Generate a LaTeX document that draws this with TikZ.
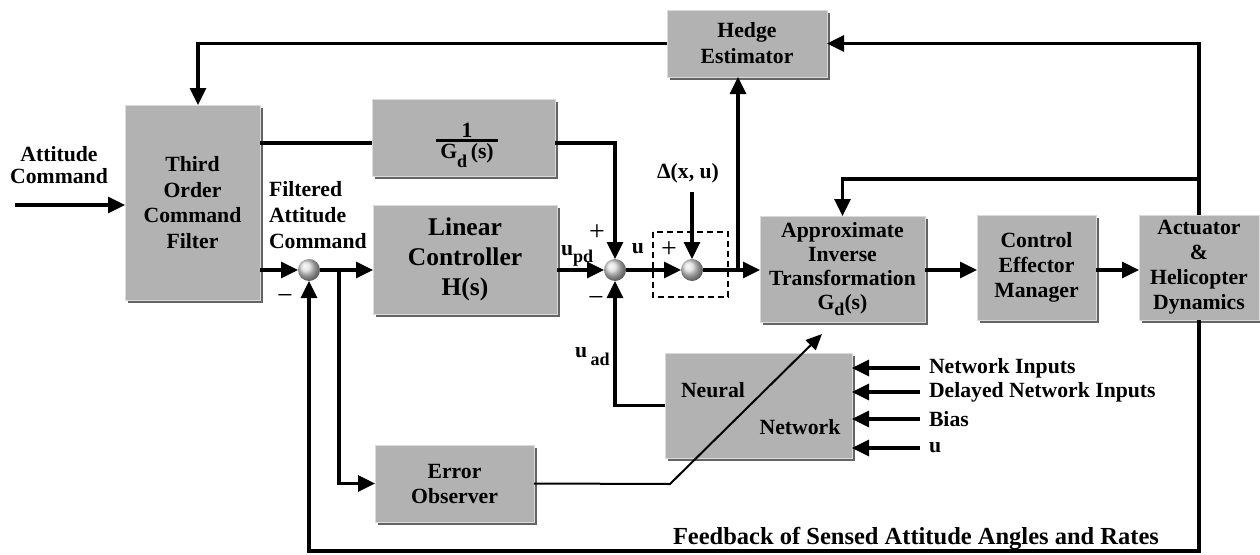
\documentclass[tikz,border=0pt]{standalone}
\usepackage{fontspec}
\setmainfont{Liberation Serif}
\usetikzlibrary{arrows.meta,shadows}
\definecolor{boxfill}{RGB}{178,178,178}
\definecolor{boxedge}{RGB}{218,218,218}
\definecolor{shadowc}{RGB}{100,100,100}
\newcommand{\subd}[2][-7pt]{\raisebox{#1}{\fontsize{18}{18}\selectfont #2}}
\begin{document}
\begin{tikzpicture}[x=1pt,y=-1pt,
  line width=3.3pt,
  every node/.style={font=\bfseries\fontsize{21.7}{25}\selectfont, inner sep=0pt, outer sep=0pt},
  blk/.style={draw=boxedge, line width=1pt, fill=boxfill, align=center,
    drop shadow={shadow xshift=3pt, shadow yshift=-3pt, fill=shadowc, opacity=1}},
  arr/.style={-{Triangle[length=17pt,width=16pt]}},
  thinarr/.style={line width=2pt,-{Triangle[length=16pt,width=14pt]}},
  sumj/.style={circle, minimum size=22pt, shading=ball, ball color=gray!28},
  sgn/.style={font=\mdseries\fontsize{28}{28}\selectfont}
]
\useasboundingbox (0,0) rectangle (1260,554);

% blocks
\node[blk, minimum width=135pt, minimum height=195pt, font=\bfseries\fontsize{21.7}{25.7}\selectfont] (filt) at (192.5,202.5) {Third\\Order\\Command\\Filter};
\node[blk, minimum width=183pt, minimum height=77pt] (gd) at (463.5,137.5) {};
\node[blk, minimum width=184pt, minimum height=109pt, font=\bfseries\fontsize{25.5}{30}\selectfont] (lin) at (465,259.5) {Linear\\Controller\\H(s)};
\node[blk, minimum width=160pt, minimum height=67pt, font=\bfseries\fontsize{21.7}{26}\selectfont] (hedge) at (747,43.5) {Hedge\\Estimator};
\node[blk, minimum width=165pt, minimum height=106pt, font=\bfseries\fontsize{21.7}{24}\selectfont] (approx) at (842.5,269) {Approximate\\Inverse\\Transformation\\G\subd[-6pt]{d}(s)};
\node[blk, minimum width=119pt, minimum height=105pt] (cem) at (1036.5,267.5) {Control\\Effector\\Manager};
\node[blk, minimum width=120pt, minimum height=105pt] (act) at (1199,267.5) {Actuator\\\&\\Helicopter\\Dynamics};
\node[blk, minimum width=187pt, minimum height=105pt] (nn) at (758.5,405.5) {};
\node[blk, minimum width=159pt, minimum height=77pt] (eo) at (454.5,483.5) {Error\\Observer};

% fraction in 1/Gd block
\node[anchor=base] (gdnum) at (467,137) {1};
\draw[line width=3pt] (436,140) -- (498,140);
\node[anchor=base] (gdden) at (467,158) {G\subd[-9pt]{d}\,(s)};

% NN text
\node (nntxt1) at (713,390) {Neural};
\node (nntxt2) at (800,427) {Network};

% summing junctions
\node[sumj] (s1) at (309,270) {};
\node[sumj] (s2) at (615,270) {};
\node[sumj] (s3) at (692,270) {};

% dashed box
\draw[line width=1.6pt, dash pattern=on 6pt off 4pt] (653,232) rectangle (728,297);

% coordinates
\coordinate (ain) at (15,205);
\coordinate (b1) at (339,270);
\coordinate (g1) at (260,143);
\coordinate (dl) at (692,192);
\coordinate (b2) at (738,270);
\coordinate (b3) at (1199,179);
\coordinate (h1) at (198,43.5);
\coordinate (fb) at (1199,551);
\coordinate (d1) at (670,484);
\coordinate (d2) at (822,334);

% connectors
\draw[arr] (ain) -- (ain -| filt.west);
\draw[arr] (filt.east |- s1) -- (s1);
\draw[arr] (s1) -- (s1 -| lin.west);
\draw[arr] (b1) -- (b1 |- eo.west) -- (eo.west);
\draw (g1) -- (g1 -| gd.west);
\draw[arr] (gd.east |- g1) -- (s2 |- g1) -- (s2);
\draw[arr] (lin.east |- s2) -- (s2);
\draw[arr] (nn.west) -- (s2 |- nn.west) -- (s2);
\draw[arr] (s2) -- (s3);
\draw[arr] (dl) -- (s3);
\draw[arr] (s3) -- (s3 -| approx.west);
\draw[arr] (b2) -- (b2 |- hedge.south);
\draw[arr] (approx.east |- s3) -- (s3 -| cem.west);
\draw[arr] (cem.east |- s3) -- (s3 -| act.west);
\draw[arr] (act.north) -- (act.north |- hedge.east) -- (hedge.east);
\draw[arr] (b3) -- (b3 -| approx.north) -- (approx.north);
\draw[arr] (hedge.west) -- (h1) -- (h1 |- filt.north);
\draw[arr] (act.south) -- (fb) -- (fb -| s1) -- (s1);
\draw[thinarr] (eo.east) -- (d1) -- (d2);

% NN inputs
\foreach \yy/\tt in {368/Network Inputs, 392/Delayed Network Inputs, 419/Bias, 448/u} {
  \coordinate (c\yy) at (920,\yy);
  \draw[arr] (c\yy) -- (c\yy -| nn.east);
  \node[anchor=west] (l\yy) at (929,\yy) {\tt};
}

% labels
\node[align=center, font=\bfseries\fontsize{21.7}{22}\selectfont] (lac) at (59,165) {Attitude\\Command};
\node[align=left, anchor=west, font=\bfseries\fontsize{21.7}{26}\selectfont] (lfac) at (269,215) {Filtered\\Attitude\\Command};
\node[sgn] (m1) at (285,299) {−};
\node[sgn] (p2) at (597,233) {+};
\node[sgn] (m2) at (596,301) {−};
\node[sgn] (p3) at (669,250) {+};
\node[anchor=base west] (lupd) at (561,255) {u\subd{pd}};
\node[anchor=base west] (luad) at (575,357) {u\,\subd[-8pt]{ad}};
\node[anchor=base] (lu) at (638,253) {u};
\node[anchor=base] (ldelta) at (688,178) {Δ(x, u)};
\node[anchor=base west, font=\bfseries\fontsize{24.5}{24.5}\selectfont] (lfb) at (673,544) {Feedback of Sensed Attitude Angles and Rates};
\end{tikzpicture}
\end{document}
